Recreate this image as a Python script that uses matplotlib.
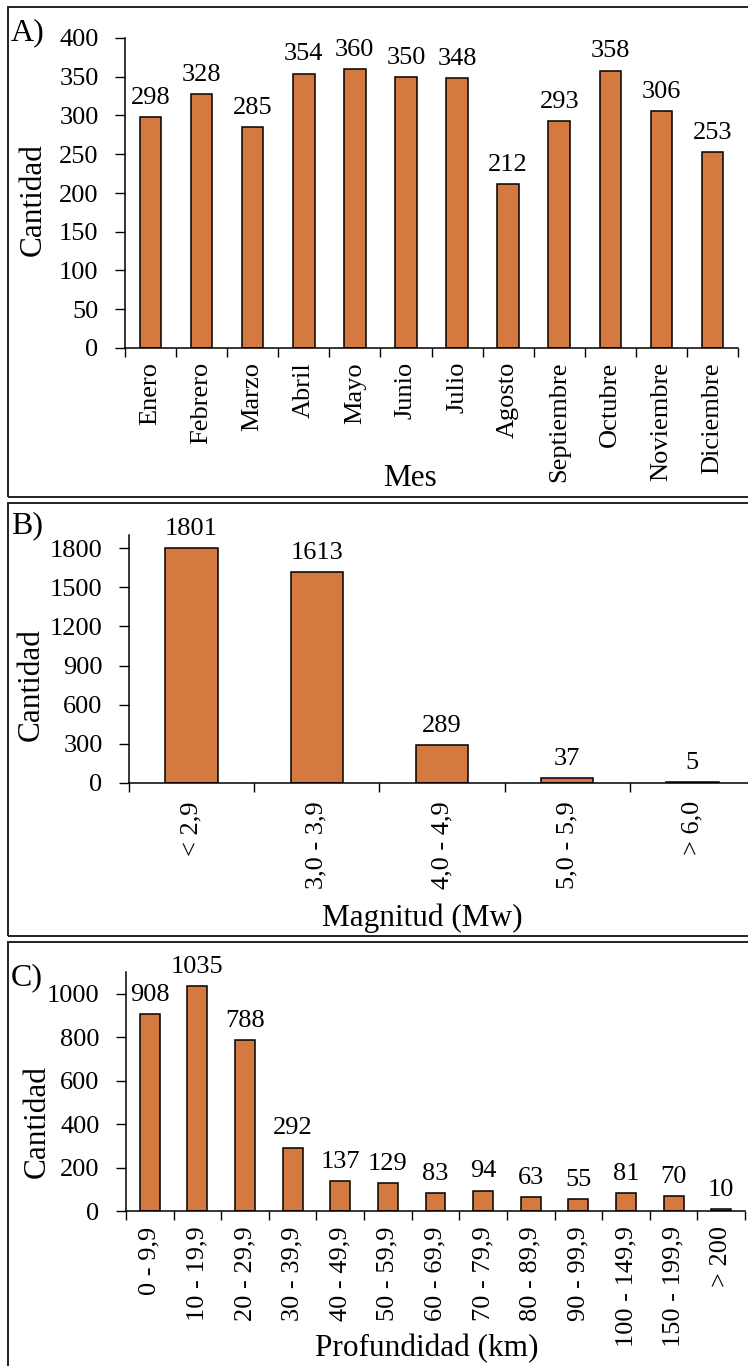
import matplotlib
matplotlib.use("Agg")
import matplotlib.pyplot as plt
from matplotlib.patches import Rectangle
import numpy as np

# --- datos ---
meses = ["Enero", "Febrero", "Marzo", "Abril", "Mayo", "Junio", "Julio",
         "Agosto", "Septiembre", "Octubre", "Noviembre", "Diciembre"]
cant_mes = [298, 328, 285, 354, 360, 350, 348, 212, 293, 358, 306, 253]

magnitudes = ["< 2,9", "3,0 - 3,9", "4,0 - 4,9", "5,0 - 5,9", "> 6,0"]
cant_mag = [1801, 1613, 289, 37, 5]

profundidades = ["0 - 9,9", "10 - 19,9", "20 - 29,9", "30 - 39,9", "40 - 49,9",
                 "50 - 59,9", "60 - 69,9", "70 - 79,9", "80 - 89,9", "90 - 99,9",
                 "100 - 149,9", "150 - 199,9", "> 200"]
cant_prof = [908, 1035, 788, 292, 137, 129, 83, 94, 63, 55, 81, 70, 10]

W, H = 748, 1366
BAR = "#D47A40"
FS_TICK = 19
FS_LAB = 22.5
plt.rcParams["font.family"] = ["Liberation Serif", "DejaVu Serif"]

fig = plt.figure(figsize=(W / 100, H / 100), dpi=100)


def fx(x):
    return x / W


def fy(y):
    return 1 - y / H


def make_axes(left, right, top, bottom):
    return fig.add_axes([fx(left), fy(bottom), fx(right - left), (bottom - top) / H])


def draw_panel(ax, cats, vals, ylim, yticks, xpad):
    x = np.arange(len(cats))
    ax.bar(x, vals, width=0.42, color=BAR, edgecolor="black", linewidth=1.1, zorder=2)
    for xi, v in zip(x, vals):
        ax.annotate(str(v), (xi, v), xytext=(0, 9.5), textcoords="offset points",
                    ha="center", va="baseline", fontsize=FS_TICK)
    ax.set_xlim(-0.5, len(cats) - 0.5)
    ax.set_ylim(*ylim)
    ax.set_yticks(yticks)
    ax.set_xticks(x)
    ax.set_xticklabels(cats, rotation=90, va="top", ha="center")
    ax.set_xticks(np.arange(len(cats) + 1) - 0.5, minor=True)
    ax.tick_params(axis="x", which="major", length=0, pad=xpad, labelsize=FS_TICK)
    ax.tick_params(axis="x", which="minor", length=6.5, width=1, direction="out")
    ax.tick_params(axis="y", length=7, width=1, pad=12, labelsize=FS_TICK)
    for s in ["top", "right"]:
        ax.spines[s].set_visible(False)
    for s in ["left", "bottom"]:
        ax.spines[s].set_linewidth(1.1)
        ax.spines[s].set_zorder(3)
    ax.set_facecolor("none")


# panel borders
for top, bottom in [(7, 497), (503, 936), (942, 1380)]:
    fig.add_artist(Rectangle((fx(8), fy(bottom)), fx(770 - 8), (bottom - top) / H,
                             transform=fig.transFigure, fill=False,
                             edgecolor="#222222", linewidth=1.4))

# A) por mes
axA = make_axes(125, 738, 38, 348)
draw_panel(axA, meses, cant_mes, (0, 400), np.arange(0, 401, 50), 10)

# B) por magnitud
axB = make_axes(129, 755, 535, 783)
draw_panel(axB, magnitudes, cant_mag, (0, 1900), np.arange(0, 1801, 300), 13)

# C) por profundidad
axC = make_axes(126, 745, 972, 1211)
draw_panel(axC, profundidades, cant_prof, (0, 1100), np.arange(0, 1001, 200), 11)

# textos del panel
fig.text(fx(11), fy(40), "A)", fontsize=23, ha="left", va="baseline")
fig.text(fx(11), fy(533), "B)", fontsize=23, ha="left", va="baseline")
fig.text(fx(11), fy(985), "C)", fontsize=23, ha="left", va="baseline")

fig.text(fx(33), fy(200), "Cantidad", fontsize=FS_LAB, rotation=90, ha="center", va="center")
fig.text(fx(31), fy(685), "Cantidad", fontsize=FS_LAB, rotation=90, ha="center", va="center")
fig.text(fx(37), fy(1122), "Cantidad", fontsize=FS_LAB, rotation=90, ha="center", va="center")

fig.text(fx(410), fy(486), "Mes", fontsize=FS_LAB, ha="center", va="baseline")
fig.text(fx(422), fy(926), "Magnitud (Mw)", fontsize=FS_LAB, ha="center", va="baseline")
fig.text(fx(427), fy(1356), "Profundidad (km)", fontsize=FS_LAB, ha="center", va="baseline")

fig.savefig("out.png", dpi=100)
